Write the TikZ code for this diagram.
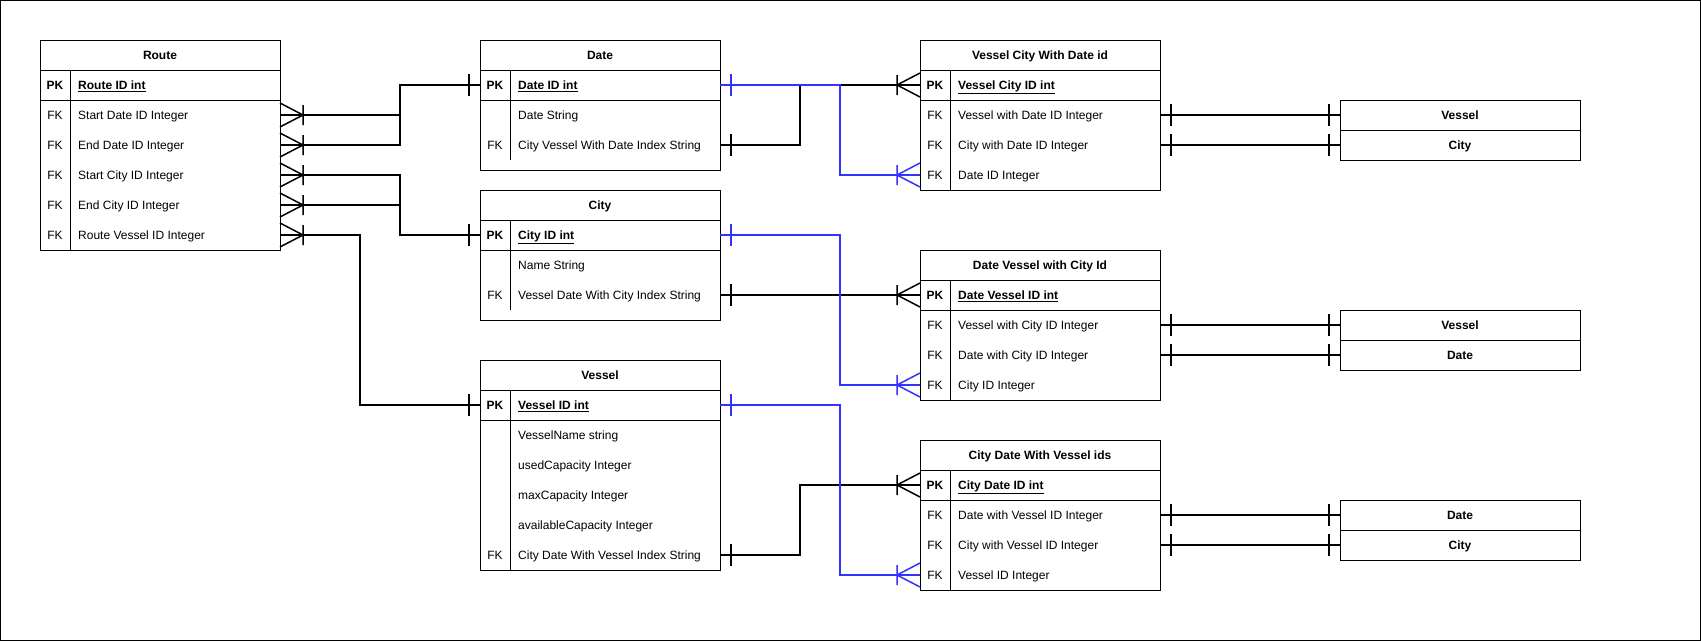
\documentclass[tikz,border=0pt]{standalone}
\usepackage{fontspec}
\setmainfont{Liberation Sans}
\usetikzlibrary{arrows.meta, positioning}
\definecolor{erblue}{RGB}{51,51,255}

% many end: crow's foot with a bar
\pgfdeclarearrow{
  name = Crow,
  setup code = {
    \pgfarrowssettipend{0pt}
    \pgfarrowssetlineend{0pt}
    \pgfarrowssetbackend{-23pt}
    \pgfarrowshullpoint{0pt}{12pt}
    \pgfarrowshullpoint{0pt}{-12pt}
    \pgfarrowshullpoint{-23pt}{10pt}
    \pgfarrowshullpoint{-23pt}{-10pt}
  },
  drawing code = {
    \pgfsetdash{}{0pt}
    \pgfpathmoveto{\pgfqpoint{0pt}{12pt}}
    \pgfpathlineto{\pgfqpoint{-23pt}{0pt}}
    \pgfpathlineto{\pgfqpoint{0pt}{-12pt}}
    \pgfpathmoveto{\pgfqpoint{-23pt}{10pt}}
    \pgfpathlineto{\pgfqpoint{-23pt}{-10pt}}
    \pgfusepathqstroke
  }
}
% one end: single bar
\pgfdeclarearrow{
  name = One,
  setup code = {
    \pgfarrowssettipend{0pt}
    \pgfarrowssetlineend{0pt}
    \pgfarrowssetbackend{-11pt}
    \pgfarrowshullpoint{0pt}{0pt}
    \pgfarrowshullpoint{-11pt}{11pt}
    \pgfarrowshullpoint{-11pt}{-11pt}
  },
  drawing code = {
    \pgfsetdash{}{0pt}
    \pgfpathmoveto{\pgfqpoint{-11pt}{11pt}}
    \pgfpathlineto{\pgfqpoint{-11pt}{-11pt}}
    \pgfusepathqstroke
  }
}

\begin{document}
\begin{tikzpicture}[
        x=1pt, y=-1pt,
        font=\fontsize{12}{14}\selectfont,
        ertable/.style={draw, line width=1pt, minimum width=240pt, inner sep=0pt, outer sep=0pt},
        erhead/.style={draw, line width=1pt, minimum width=240pt, minimum height=30pt, inner sep=0pt, outer sep=0pt, text height=10.5pt, text depth=1.5pt, font=\fontsize{12}{14}\selectfont\bfseries},
        pkrow/.style={draw, line width=1pt, minimum width=240pt, minimum height=30pt, inner sep=0pt, outer sep=0pt},
        keycell/.style={inner sep=0pt, text height=10.5pt, text depth=1.5pt},
        fieldtxt/.style={anchor=west, inner sep=0pt, text height=10.5pt, text depth=1.5pt},
        pktxt/.style={fieldtxt, font=\fontsize{12}{14}\selectfont\bfseries},
        fklink/.style={line width=1.5pt},
        idlink/.style={line width=1.5pt, erblue}
    ]
        \useasboundingbox (0,0) rectangle (1701,641);
        \draw[line width=1pt] (0.5,0.5) rectangle (1700.5,640.5);

        % Route
        \node[ertable, minimum height=210pt] (route) at (160,145) {};
        \node[erhead] (route-h) at (160,55) {Route};
        \node[pkrow] (route-pk) at (160,85) {};
        \node[keycell, font=\fontsize{12}{14}\selectfont\bfseries] (route-kpk) at (55,85) {PK};
        \node[pktxt] (route-pkname) at (78,85) {\underline{Route ID int}};
        \foreach \k/\f [count=\i] in {FK/Start Date ID Integer, FK/End Date ID Integer, FK/Start City ID Integer, FK/End City ID Integer, FK/Route Vessel ID Integer}{
            \node[keycell] (route-k\i) at (55,85+30*\i) {\k};
            \node[fieldtxt] (route-\i) at (78,85+30*\i) {\f};
        }
        \draw[line width=1pt] (route-pk.north west) ++(30,0) -- ++(0,180);

        % Date
        \node[ertable, minimum height=130pt] (date) at (600,105) {};
        \node[erhead] (date-h) at (600,55) {Date};
        \node[pkrow] (date-pk) at (600,85) {};
        \node[keycell, font=\fontsize{12}{14}\selectfont\bfseries] (date-kpk) at (495,85) {PK};
        \node[pktxt] (date-pkname) at (518,85) {\underline{Date ID int}};
        \foreach \k/\f [count=\i] in {/Date String, FK/City Vessel With Date Index String}{
            \node[keycell] (date-k\i) at (495,85+30*\i) {\k};
            \node[fieldtxt] (date-\i) at (518,85+30*\i) {\f};
        }
        \draw[line width=1pt] (date-pk.north west) ++(30,0) -- ++(0,90);

        % City
        \node[ertable, minimum height=130pt] (city) at (600,255) {};
        \node[erhead] (city-h) at (600,205) {City};
        \node[pkrow] (city-pk) at (600,235) {};
        \node[keycell, font=\fontsize{12}{14}\selectfont\bfseries] (city-kpk) at (495,235) {PK};
        \node[pktxt] (city-pkname) at (518,235) {\underline{City ID int}};
        \foreach \k/\f [count=\i] in {/Name String, FK/Vessel Date With City Index String}{
            \node[keycell] (city-k\i) at (495,235+30*\i) {\k};
            \node[fieldtxt] (city-\i) at (518,235+30*\i) {\f};
        }
        \draw[line width=1pt] (city-pk.north west) ++(30,0) -- ++(0,90);

        % Vessel
        \node[ertable, minimum height=210pt] (vessel) at (600,465) {};
        \node[erhead] (vessel-h) at (600,375) {Vessel};
        \node[pkrow] (vessel-pk) at (600,405) {};
        \node[keycell, font=\fontsize{12}{14}\selectfont\bfseries] (vessel-kpk) at (495,405) {PK};
        \node[pktxt] (vessel-pkname) at (518,405) {\underline{Vessel ID int}};
        \foreach \k/\f [count=\i] in {/VesselName string, /usedCapacity Integer, /maxCapacity Integer, /availableCapacity Integer, FK/City Date With Vessel Index String}{
            \node[keycell] (vessel-k\i) at (495,405+30*\i) {\k};
            \node[fieldtxt] (vessel-\i) at (518,405+30*\i) {\f};
        }
        \draw[line width=1pt] (vessel-pk.north west) ++(30,0) -- ++(0,180);

        % Vessel City With Date id
        \node[ertable, minimum height=150pt] (vcwd) at (1040,115) {};
        \node[erhead] (vcwd-h) at (1040,55) {Vessel City With Date id};
        \node[pkrow] (vcwd-pk) at (1040,85) {};
        \node[keycell, font=\fontsize{12}{14}\selectfont\bfseries] (vcwd-kpk) at (935,85) {PK};
        \node[pktxt] (vcwd-pkname) at (958,85) {\underline{Vessel City ID int}};
        \foreach \k/\f [count=\i] in {FK/Vessel with Date ID Integer, FK/City with Date ID Integer, FK/Date ID Integer}{
            \node[keycell] (vcwd-k\i) at (935,85+30*\i) {\k};
            \node[fieldtxt] (vcwd-\i) at (958,85+30*\i) {\f};
        }
        \draw[line width=1pt] (vcwd-pk.north west) ++(30,0) -- ++(0,120);

        % Date Vessel with City Id
        \node[ertable, minimum height=150pt] (dvci) at (1040,325) {};
        \node[erhead] (dvci-h) at (1040,265) {Date Vessel with City Id};
        \node[pkrow] (dvci-pk) at (1040,295) {};
        \node[keycell, font=\fontsize{12}{14}\selectfont\bfseries] (dvci-kpk) at (935,295) {PK};
        \node[pktxt] (dvci-pkname) at (958,295) {\underline{Date Vessel ID int}};
        \foreach \k/\f [count=\i] in {FK/Vessel with City ID Integer, FK/Date with City ID Integer, FK/City ID Integer}{
            \node[keycell] (dvci-k\i) at (935,295+30*\i) {\k};
            \node[fieldtxt] (dvci-\i) at (958,295+30*\i) {\f};
        }
        \draw[line width=1pt] (dvci-pk.north west) ++(30,0) -- ++(0,120);

        % City Date With Vessel ids
        \node[ertable, minimum height=150pt] (cdwv) at (1040,515) {};
        \node[erhead] (cdwv-h) at (1040,455) {City Date With Vessel ids};
        \node[pkrow] (cdwv-pk) at (1040,485) {};
        \node[keycell, font=\fontsize{12}{14}\selectfont\bfseries] (cdwv-kpk) at (935,485) {PK};
        \node[pktxt] (cdwv-pkname) at (958,485) {\underline{City Date ID int}};
        \foreach \k/\f [count=\i] in {FK/Date with Vessel ID Integer, FK/City with Vessel ID Integer, FK/Vessel ID Integer}{
            \node[keycell] (cdwv-k\i) at (935,485+30*\i) {\k};
            \node[fieldtxt] (cdwv-\i) at (958,485+30*\i) {\f};
        }
        \draw[line width=1pt] (cdwv-pk.north west) ++(30,0) -- ++(0,120);

        % referenced tables
        \node[erhead] (vcwd-ref1) at (1460,115) {Vessel};
        \node[erhead, below=0pt of vcwd-ref1] (vcwd-ref2) {City};
        \node[erhead] (dvci-ref1) at (1460,325) {Vessel};
        \node[erhead, below=0pt of dvci-ref1] (dvci-ref2) {Date};
        \node[erhead] (cdwv-ref1) at (1460,515) {Date};
        \node[erhead, below=0pt of cdwv-ref1] (cdwv-ref2) {City};

        % route keys
        \draw[fklink, {Crow}-{One}] (route-1 -| route.east) -- ++(120,0) |- (date-pk.west);
        \draw[fklink, {Crow}-{One}] (route-2 -| route.east) -- ++(120,0) |- (date-pk.west);
        \draw[fklink, {Crow}-{One}] (route-3 -| route.east) -- ++(120,0) |- (city-pk.west);
        \draw[fklink, {Crow}-{One}] (route-4 -| route.east) -- ++(120,0) |- (city-pk.west);
        \draw[fklink, {Crow}-{One}] (route-5 -| route.east) -- ++(80,0) |- (vessel-pk.west);

        % index tables
        \draw[fklink, {One}-{Crow}] (date-2 -| date.east) -- ++(80,0) |- (vcwd-pk.west);
        \draw[fklink, {One}-{Crow}] (city-2 -| city.east) -- (dvci-pk.west);
        \draw[fklink, {One}-{Crow}] (vessel-5 -| vessel.east) -- ++(80,0) |- (cdwv-pk.west);
        \draw[idlink, {One}-{Crow}] (date-pk.east) -- ++(120,0) |- (vcwd-3 -| vcwd.west);
        \draw[idlink, {One}-{Crow}] (city-pk.east) -- ++(120,0) |- (dvci-3 -| dvci.west);
        \draw[idlink, {One}-{Crow}] (vessel-pk.east) -- ++(120,0) |- (cdwv-3 -| cdwv.west);

        \draw[fklink, {One}-{One}] (vcwd-1 -| vcwd.east) -- (vcwd-ref1.west);
        \draw[fklink, {One}-{One}] (vcwd-2 -| vcwd.east) -- (vcwd-ref2.west);
        \draw[fklink, {One}-{One}] (dvci-1 -| dvci.east) -- (dvci-ref1.west);
        \draw[fklink, {One}-{One}] (dvci-2 -| dvci.east) -- (dvci-ref2.west);
        \draw[fklink, {One}-{One}] (cdwv-1 -| cdwv.east) -- (cdwv-ref1.west);
        \draw[fklink, {One}-{One}] (cdwv-2 -| cdwv.east) -- (cdwv-ref2.west);
    \end{tikzpicture}
\end{document}
